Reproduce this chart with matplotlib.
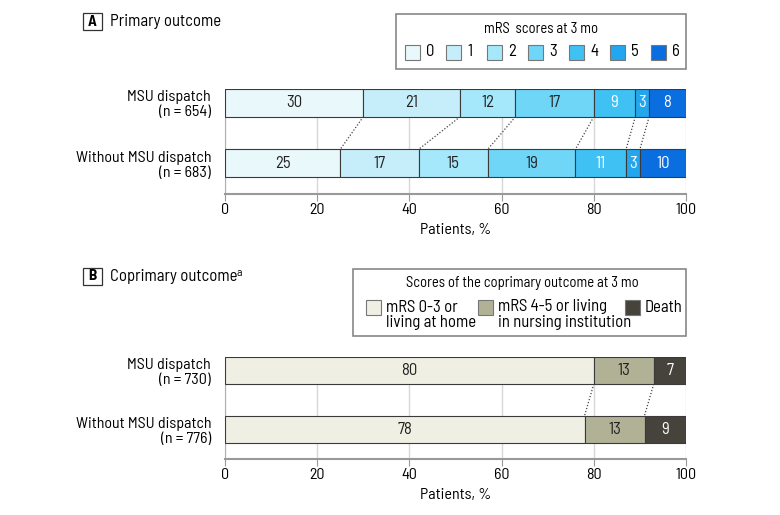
import numpy as np
import matplotlib
matplotlib.use('Agg')
from matplotlib import pyplot as plt
from matplotlib.patches import Rectangle

plt.rcParams['font.family'] = ['Barlow Semi Condensed', 'DejaVu Sans']

# Panel A: mRS scores at 3 months
grupos_a = ['MSU dispatch\n(n\u2009=\u2009654)', 'Without MSU dispatch\n(n\u2009=\u2009683)']
mrs_labels = ['0', '1', '2', '3', '4', '5', '6']
mrs_msu = [30, 21, 12, 17, 9, 3, 8]
mrs_sin = [25, 17, 15, 19, 11, 3, 10]
colores_a = ['#e9f8fb', '#c6eefa', '#a6e8fb', '#6fd6f7', '#3fc1f4', '#22a6ee', '#0a6ee0']
texto_a = ['#222222'] * 4 + ['white'] * 3

# Panel B: coprimary outcome
grupos_b = ['MSU dispatch\n(n\u2009=\u2009730)', 'Without MSU dispatch\n(n\u2009=\u2009776)']
co_labels = ['mRS 0-3 or\nliving at home', 'mRS 4-5 or living\nin nursing institution', 'Death']
co_msu = [80, 13, 7]
co_sin = [78, 13, 9]
colores_b = ['#eff0e3', '#b1b295', '#45433b']
texto_b = ['#222222', '#222222', 'white']

W, H = 780, 515
fig = plt.figure(figsize=(W / 100, H / 100), dpi=100)
FS = 11


def panel(y_top, y_bot, grupos, filas, colores, textos):
    ax = fig.add_axes([225 / W, 1 - y_bot / H, (686 - 225) / W, (y_bot - y_top) / H])
    alto = 0.46
    for i, fila in enumerate(filas):
        izq = np.concatenate([[0], np.cumsum(fila)[:-1]])
        ax.barh(i, fila, left=izq, height=alto, color=colores,
                edgecolor='#3a3a3a', linewidth=0.8, zorder=3)
        for v, l, c in zip(fila, izq, textos):
            ax.text(l + v / 2, i, str(v), ha='center', va='center',
                    fontsize=FS + 1, color=c, zorder=4)
    # lineas punteadas entre barras
    c0 = np.cumsum(filas[0])[:-1]
    c1 = np.cumsum(filas[1])[:-1]
    for a, b in zip(c0, c1):
        ax.plot([a, b], [alto / 2, 1 - alto / 2], ls=(0, (1, 1.5)), color='#444444',
                lw=0.9, zorder=2)
    ax.set_xlim(0, 100)
    ax.set_ylim(1.51, -0.23)
    ax.set_yticks([0, 1])
    ax.set_yticklabels(grupos, fontsize=FS + 0.5, ha='right', linespacing=1.1)
    ax.tick_params(axis='y', length=0, pad=10)
    ax.set_xticks(range(0, 101, 20))
    ax.tick_params(axis='x', length=5, color='#999999', labelsize=FS + 0.5, pad=1.5)
    ax.grid(axis='x', color='#d8d8d8', lw=1, zorder=0)
    for s in ['top', 'right']:
        ax.spines[s].set_visible(False)
    ax.spines['left'].set_color('#b0b0b0')
    ax.spines['bottom'].set_color('#999999')
    ax.spines['bottom'].set_linewidth(1.5)
    ax.set_xlabel('Patients, %', fontsize=FS + 0.5, labelpad=4)
    return ax


panel(89, 194, grupos_a, [mrs_msu, mrs_sin], colores_a, texto_a)
panel(357, 459, grupos_b, [co_msu, co_sin], colores_b, texto_b)

# capa superior en pixeles para encabezados y leyendas
ov = fig.add_axes([0, 0, 1, 1])
ov.set_xlim(0, W)
ov.set_ylim(H, 0)
ov.axis('off')


def caja_panel(letra, titulo, y):
    ov.add_patch(Rectangle((83, y - 8.5), 19, 17, fill=False, ec='#333333', lw=0.9))
    ov.text(92.5, y, letra, ha='center', va='center', fontsize=FS, weight='bold')
    return ov.text(110, y, titulo, ha='left', va='center', fontsize=FS + 1)


caja_panel('A', 'Primary outcome', 21.5)
tb = caja_panel('B', 'Coprimary outcome', 276)

# leyenda A
ov.add_patch(Rectangle((396, 14), 290, 55, fill=False, ec='#888888', lw=1.2))
ov.text(541, 29, 'mRS  scores at 3 mo', ha='center', va='center', fontsize=10.5)
for k, (lab, col) in enumerate(zip(mrs_labels, colores_a)):
    x = 405 + k * 41
    ov.add_patch(Rectangle((x, 44.5), 15, 15, fc=col, ec='#777777', lw=0.8))
    ov.text(x + 21, 52, lab, ha='left', va='center', fontsize=FS + 1)

# leyenda B
ov.add_patch(Rectangle((353, 268.5), 333, 67.5, fill=False, ec='#888888', lw=1.2))
ov.text(522, 283, 'Scores of the coprimary outcome at 3 mo', ha='center', va='center',
        fontsize=10.5)
xs_caja = [366, 478, 625]
for k, (lab, col) in enumerate(zip(co_labels, colores_b)):
    ov.add_patch(Rectangle((xs_caja[k], 300), 15, 15, fc=col, ec='#777777', lw=0.8))
    if k < 2:
        ov.text(xs_caja[k] + 20, 299.5, lab, ha='left', va='top', fontsize=FS + 1,
                linespacing=1.05)
    else:
        ov.text(xs_caja[k] + 20, 307, lab, ha='left', va='center', fontsize=FS + 1)

# superindice "a" tras el titulo del panel B
fig.canvas.draw()
bb = tb.get_window_extent()
fig.text((bb.x1 - 1) / W, (bb.y1 - 5) / H, 'a', ha='left', va='center', fontsize=FS - 2.5)

fig.savefig('out.png', dpi=100)
